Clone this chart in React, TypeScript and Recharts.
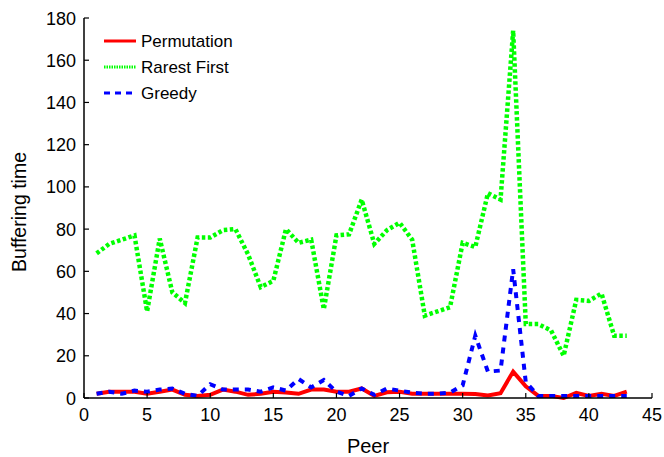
import React from "react";
import { LineChart, Line, XAxis, YAxis, Legend } from "recharts";

const peers = [1,2,3,4,5,6,7,8,9,10,11,12,13,14,15,16,17,18,19,20,21,22,23,24,25,26,27,28,29,30,31,32,33,34,35,36,37,38,39,40,41,42,43];
const permutation = [2,3,3,3,2,3,4,1.5,1,1.5,4,3,1.5,2,3,2.6,2,4,4,3,3,4.5,1,2.7,3,2,2,2,2,2,1.9,1.2,2.3,12.5,5.5,1,1,0,2.4,1,2,1,3];
const rarestFirst = [68.5,73,75,77,41,75.5,50,45,76,76,79.5,80,68,52.5,55.5,80,73.5,75,42,77,77.5,94,73,79.5,83,75,39,41,43,73.5,71.5,97,94,174,35,35,32,20,46.5,46,49.5,29.5,29.5];
const greedy = [2,3,2,3.5,3,4,4.5,2,1,6.5,4,4,4,3,5,3.5,9,5,8.5,3,1,4.5,1.5,4.5,3.5,2.5,2,2,2.5,6,29.5,12.5,13,61,7.5,1,1,1,1,1,1,1,1];

const seriesNames = ["Permutation", "Rarest First", "Greedy"];
const seriesColors = ["#ff0000", "#00ff00", "#0000ff"];
const seriesDash = ["", "3.5 2.5", "6 6"];

const xTicks = [0,5,10,15,20,25,30,35,40,45];
const yTicks = [0,20,40,60,80,100,120,140,160,180];

const data = peers.map((p, i) => ({
  peer: p,
  permutation: permutation[i],
  rarestFirst: rarestFirst[i],
  greedy: greedy[i],
}));

const FONT = "'Liberation Sans', Arial, sans-serif";

const BottomTick = (props: any) => {
  const { x, y, payload } = props;
  return (
    <g>
      <line x1={x} y1={y} x2={x} y2={y - 5} stroke="#000" strokeWidth={1.2} />
      <text x={x} y={y + 23} textAnchor="middle" fontSize={18} fontFamily={FONT} fill="#000">
        {payload.value}
      </text>
    </g>
  );
};

const LeftTick = (props: any) => {
  const { x, y, payload } = props;
  return (
    <g>
      <line x1={x} y1={y} x2={x + 5} y2={y} stroke="#000" strokeWidth={1.2} />
      <text x={x - 8} y={y + 6.5} textAnchor="end" fontSize={18} fontFamily={FONT} fill="#000">
        {payload.value}
      </text>
    </g>
  );
};

const TopTick = (props: any) => {
  const { x, y } = props;
  return <line x1={x} y1={y} x2={x} y2={y + 5} stroke="#000" strokeWidth={1.2} />;
};

const RightTick = (props: any) => {
  const { x, y } = props;
  return <line x1={x} y1={y} x2={x - 5} y2={y} stroke="#000" strokeWidth={1.2} />;
};

const LegendContent = () => (
  <svg width={150} height={80}>
    {seriesNames.map((name, i) => (
      <g key={name}>
        <line
          x1={4}
          x2={36}
          y1={13 + i * 26}
          y2={13 + i * 26}
          stroke={seriesColors[i]}
          strokeWidth={3}
          strokeDasharray={i === 1 ? "1.5 1" : i === 2 ? "6 5" : undefined}
        />
        <text x={41} y={19 + i * 26} fontSize={17} fontFamily={FONT} fill="#000">
          {name}
        </text>
      </g>
    ))}
  </svg>
);

export default function App() {
  return (
    <div style={{ position: "absolute", left: 0, top: 0, width: 664, height: 457, background: "#fff" }}>
      <LineChart width={664} height={457} data={data} margin={{ top: 18, right: 12, left: 24, bottom: 0 }}>
        <XAxis
          dataKey="peer"
          type="number"
          domain={[0, 45]}
          ticks={xTicks}
          height={59}
          tickSize={0}
          tickMargin={0}
          tickLine={false}
          tick={<BottomTick />}
          axisLine={{ stroke: "#000", strokeWidth: 1.5 }}
          interval={0}
          label={{ value: "Peer", position: "insideBottom", offset: 4, fontSize: 20, fontFamily: FONT, fill: "#000" }}
        />
        <XAxis
          xAxisId="top"
          dataKey="peer"
          type="number"
          orientation="top"
          domain={[0, 45]}
          ticks={xTicks}
          height={0}
          tickSize={0}
          tickMargin={0}
          tickLine={false}
          tick={<TopTick />}
          axisLine={{ stroke: "#000", strokeWidth: 1.5 }}
          interval={0}
        />
        <YAxis
          type="number"
          domain={[0, 180]}
          ticks={yTicks}
          width={60}
          tickSize={0}
          tickMargin={0}
          tickLine={false}
          tick={<LeftTick />}
          axisLine={{ stroke: "#000", strokeWidth: 1.5 }}
          interval={0}
          label={{ value: "Buffering time", angle: -90, position: "insideLeft", offset: -5, dy: 4, style: { textAnchor: "middle" }, fontSize: 19.5, fontFamily: FONT, fill: "#000" }}
        />
        <YAxis
          yAxisId="right"
          orientation="right"
          type="number"
          domain={[0, 180]}
          ticks={yTicks}
          width={0}
          tickSize={0}
          tickMargin={0}
          tickLine={false}
          tick={<RightTick />}
          axisLine={{ stroke: "#000", strokeWidth: 1.5 }}
          interval={0}
        />
        <Legend
          layout="vertical"
          align="center"
          verticalAlign="middle"
          content={<LegendContent />}
          wrapperStyle={{ left: 100, top: 28, width: 150, height: 80 }}
        />
        <Line
          dataKey="rarestFirst"
          name={seriesNames[1]}
          stroke={seriesColors[1]}
          strokeWidth={4.5}
          strokeDasharray={seriesDash[1]}
          dot={false}
          activeDot={false}
          isAnimationActive={false}
          strokeLinejoin="miter"
        />
        <Line
          dataKey="permutation"
          name={seriesNames[0]}
          stroke={seriesColors[0]}
          strokeWidth={4}
          dot={false}
          activeDot={false}
          isAnimationActive={false}
        />
        <Line
          dataKey="greedy"
          name={seriesNames[2]}
          stroke={seriesColors[2]}
          strokeWidth={4}
          strokeDasharray={seriesDash[2]}
          dot={false}
          activeDot={false}
          isAnimationActive={false}
        />
      </LineChart>
    </div>
  );
}
